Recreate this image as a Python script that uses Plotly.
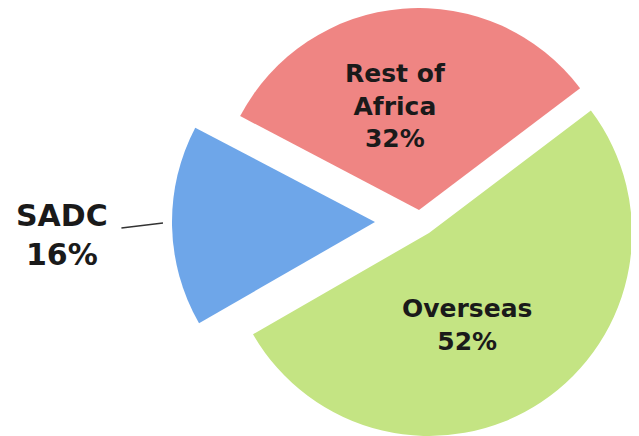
import plotly.graph_objects as go

# ---- data ----
labels = ["Rest of Africa", "Overseas", "SADC"]
values = [32, 52, 16]
label_text = ["Rest of<br>Africa", "Overseas", "SADC"]
colors = ["#EF8583", "#C4E483", "#6EA6E9"]

# ---- layout / style ----
OFF = 8                       # page body margin
W, H = 639 - OFF, 436 - OFF
R = 203
apex_px = [(419, 209), (429, 233), (375, 222)]   # exploded slice centres (page px)
start_angle = -62.3
label_px = [(395, 106), (467, 325), (62, 235)]
label_size = [25, 25, 30]
FONT = "DejaVu Sans, Arial, sans-serif"


def fx(px):
    return (px - OFF) / W


def fy(py):
    return 1 - (py - OFF) / H


total = sum(values)
fig = go.Figure()
for i, lab in enumerate(labels):
    cx, cy = apex_px[i]
    fills = ["rgba(0,0,0,0)"] * len(labels)
    fills[i] = colors[i]
    fig.add_trace(go.Pie(
        labels=labels, values=values, sort=False,
        direction="clockwise", rotation=start_angle,
        marker=dict(colors=fills, line=dict(width=0)),
        textinfo="none", hoverinfo="label+percent", showlegend=False,
        domain=dict(x=[max(0, fx(cx - R)), min(1, fx(cx + R))],
                    y=[max(0, fy(cy + R)), min(1, fy(cy - R))]),
    ))

annotations = []
for i, lab in enumerate(labels):
    pct = round(values[i] / total * 100)
    lx, ly = label_px[i]
    txt = f"<b>{label_text[i]}<br>{pct}%</b>"
    if lab == "SADC":
        tip = (163, 223)
        annotations.append(dict(
            x=fx(tip[0]), y=fy(tip[1]), xref="paper", yref="paper",
            ax=lx - tip[0], ay=ly - tip[1], axref="pixel", ayref="pixel",
            text=txt, showarrow=True, arrowhead=0, arrowwidth=1.4,
            arrowcolor="#333333", startstandoff=12, standoff=0,
            font=dict(family=FONT, size=label_size[i], color="#1a1a1a"),
            align="center"))
    else:
        annotations.append(dict(
            x=fx(lx), y=fy(ly), xref="paper", yref="paper",
            text=txt, showarrow=False, xanchor="center", yanchor="middle",
            font=dict(family=FONT, size=label_size[i], color="#1a1a1a"),
            align="center"))

fig.update_layout(
    width=W, height=H, autosize=False,
    margin=dict(l=0, r=0, t=0, b=0),
    paper_bgcolor="white", plot_bgcolor="white",
    annotations=annotations,
)

fig.write_html("out.html")
